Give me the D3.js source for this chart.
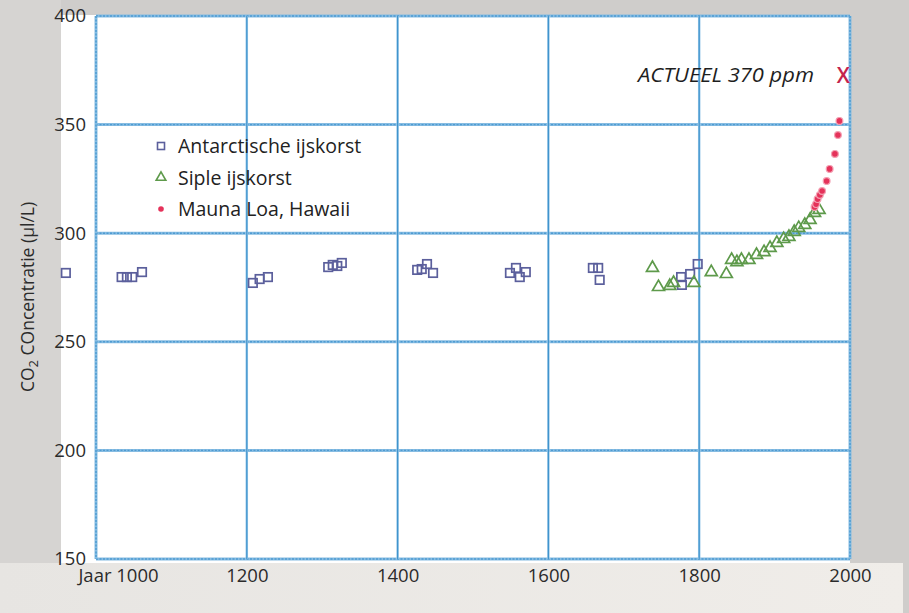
<!DOCTYPE html>
<html><head><meta charset="utf-8">
<script src="https://cdn.jsdelivr.net/npm/d3@7"></script>
<style>body{margin:0;background:#fff;} svg{display:block;font-family:"Open Sans",sans-serif;}</style>
</head><body>
<svg id="chart" width="909" height="613"></svg>
<script>
// ---- data ----
const antarcticYears = [960,1034,1041,1048,1061,1208,1217,1228,1308,1314,1320,1326,1426,1432,1439,1447,1549,1557,1562,1570,1659,1666,1668,1776,1777,1788,1798];
const antarcticValues = [281.7,279.8,279.8,279.8,282.1,277.1,278.9,279.8,284.4,285.4,284.9,286.3,283.1,283.5,285.8,281.7,281.7,284.0,279.8,282.1,284.0,284.0,278.5,279.8,276.2,281.2,285.8];
const sipleYears = [1738,1746,1761,1766,1793,1816,1836,1843,1850,1856,1866,1876,1886,1894,1903,1912,1919,1926,1932,1940,1947,1953,1959];
const sipleValues = [284.0,275.2,275.7,277.1,277.1,282.1,281.2,287.7,286.7,287.7,287.7,290.0,291.3,293.2,295.5,297.3,298.3,300.6,302.4,303.8,306.1,309.3,310.7];
const maunaYears = [1953,1955,1957,1960,1963,1969,1973,1980,1984,1986];
const maunaValues = [312.1,313.4,315.7,317.6,319.4,324.0,329.6,336.5,345.2,351.7];
const currentYear = 1991, currentValue = 372.8;
const currentLabel = "ACTUEEL 370 ppm";
const xTicks = [1000,1200,1400,1600,1800,2000];
const yTicks = [150,200,250,300,350,400];
const legendLabels = ["Antarctische ijskorst","Siple ijskorst","Mauna Loa, Hawaii"];

const svg = d3.select("#chart");
const W = 909, H = 613;
const x = d3.scaleLinear().domain([1000,2000]).range([96,850]);
const y = d3.scaleLinear().domain([150,400]).range([559,16]);

// ---- background ----
const defs = svg.append("defs");
const g1 = defs.append("linearGradient").attr("id","bottomGrad").attr("x1","0").attr("x2","1");
g1.append("stop").attr("offset","0").attr("stop-color","#e7e5e2");
g1.append("stop").attr("offset","1").attr("stop-color","#f0ede9");
svg.append("rect").attr("width",W).attr("height",H).attr("fill","#cfcdcb");
svg.append("rect").attr("x",0).attr("y",563).attr("width",903).attr("height",H-563).attr("fill","url(#bottomGrad)");
svg.append("rect").attr("x",0).attr("y",0).attr("width",61).attr("height",563).attr("fill","#d6d4d2");
svg.append("rect").attr("x",61).attr("y",15).attr("width",789).attr("height",548).attr("fill","#ffffff");

// ---- grid ----
const grid = svg.append("g");
function hline(v){
  grid.append("line").attr("x1",x(1000)).attr("x2",x(2000)).attr("y1",y(v)).attr("y2",y(v))
    .attr("stroke","#86bce2").attr("stroke-width",3);
  grid.append("line").attr("x1",x(1000)).attr("x2",x(2000)).attr("y1",y(v)).attr("y2",y(v))
    .attr("stroke","#4e9bd2").attr("stroke-width",1.4).attr("stroke-dasharray","2,1.5");
}
function vline(v, edge){
  grid.append("line").attr("x1",x(v)).attr("x2",x(v)).attr("y1",y(400)).attr("y2",y(150))
    .attr("stroke",edge?"#86bce2":"#9ac8e8").attr("stroke-width",edge?3:2.5);
  grid.append("line").attr("x1",x(v)).attr("x2",x(v)).attr("y1",y(400)).attr("y2",y(150))
    .attr("stroke","#3f94cd").attr("stroke-width",1.2).attr("stroke-dasharray",edge?"2,1.5":null);
}
yTicks.forEach(v=>hline(v));
xTicks.forEach(v=>vline(v, v===1000||v===2000));

// ---- axes labels ----
const yAxis = d3.axisLeft(y).tickValues(yTicks).tickSize(0).tickPadding(10);
const ya = svg.append("g").attr("transform","translate(96,0)").call(yAxis);
ya.select(".domain").remove();
ya.selectAll("text").attr("font-size",18.5).attr("fill","#2b2b2b").attr("font-family","'Open Sans',sans-serif");

const xAxis = d3.axisBottom(x).tickValues(xTicks).tickSize(0).tickPadding(10)
  .tickFormat(d=> d===1000 ? "Jaar 1000" : String(d));
const xa = svg.append("g").attr("transform","translate(0,559)").call(xAxis);
xa.select(".domain").remove();
xa.selectAll("text").attr("font-size",18.5).attr("fill","#2b2b2b").attr("font-family","'Open Sans',sans-serif")
  .attr("dx", d=> d===1000 ? 22 : 0);

// y title
const yt = svg.append("text").attr("transform","translate(34,297) rotate(-90)")
  .attr("text-anchor","middle").attr("font-size",17.5).attr("fill","#2b2b2b");
yt.append("tspan").text("CO");
yt.append("tspan").text("2").attr("font-size",13).attr("dy",4);
yt.append("tspan").text(" COncentratie (µl/L)").attr("dy",-4);

// ---- data marks ----
const sq = 8.5;
svg.append("g").selectAll("rect").data(antarcticYears).join("rect")
  .attr("x",(d)=>x(d)-sq/2).attr("y",(d,i)=>y(antarcticValues[i])-sq/2)
  .attr("width",sq).attr("height",sq).attr("fill","none")
  .attr("stroke","#5b5f9c").attr("stroke-width",1.7);

const tri = d3.symbol().type(d3.symbolTriangle).size(62);
svg.append("g").selectAll("path").data(sipleYears).join("path")
  .attr("d",tri).attr("transform",(d,i)=>`translate(${x(d)},${y(sipleValues[i])})`)
  .attr("fill","none").attr("stroke","#5e9a4b").attr("stroke-width",1.7);

svg.append("g").selectAll("circle").data(maunaYears).join("circle")
  .attr("cx",d=>x(d)).attr("cy",(d,i)=>y(maunaValues[i])).attr("r",3.4)
  .attr("fill","#e5325a").attr("stroke","#f3a0b2").attr("stroke-width",1.2);

// current marker
svg.append("text").attr("x",x(currentYear)).attr("y",y(currentValue)+7.5).attr("text-anchor","middle")
  .attr("font-size",21).attr("font-weight",600).attr("fill","#c4244c").text("X");
svg.append("text").attr("x",638).attr("y",y(currentValue)+7).attr("text-anchor","start")
  .attr("font-size",20).attr("font-style","italic").attr("font-weight",500).attr("fill","#1e1e1e")
  .attr("textLength",176).attr("lengthAdjust","spacingAndGlyphs").text(currentLabel);

// ---- legend ----
const lg = svg.append("g").attr("transform","translate(161,146)");
const rowH = 31.5;
legendLabels.forEach((lab,i)=>{
  const gy = i*rowH;
  if(i===0) lg.append("rect").attr("x",-3.5).attr("y",gy-3.5).attr("width",7).attr("height",7)
      .attr("fill","none").attr("stroke","#5b5f9c").attr("stroke-width",1.6);
  if(i===1) lg.append("path").attr("d",d3.symbol().type(d3.symbolTriangle).size(40)).attr("transform",`translate(0,${gy})`)
      .attr("fill","none").attr("stroke","#5e9a4b").attr("stroke-width",1.6);
  if(i===2) lg.append("circle").attr("cx",0).attr("cy",gy).attr("r",2.8).attr("fill","#e5325a");
  lg.append("text").attr("x",17).attr("y",gy+7).attr("font-size",19.5).attr("fill","#222").text(lab);
});
</script>
</body></html>
